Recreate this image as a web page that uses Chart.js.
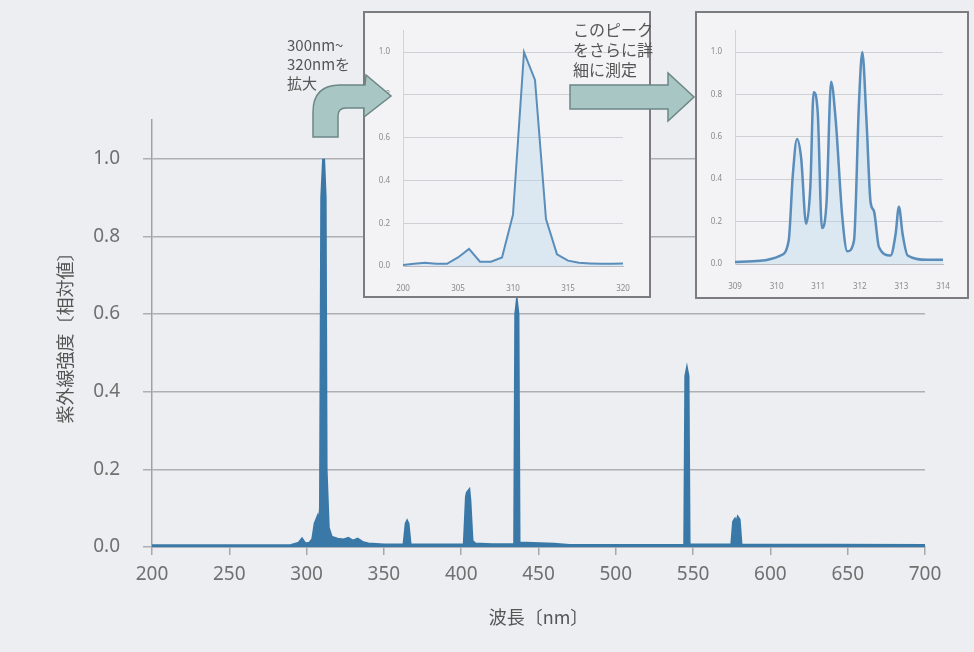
<!DOCTYPE html>
<html>
<head>
<meta charset="utf-8">
<script src="https://cdn.jsdelivr.net/npm/chart.js@4.4.1/dist/chart.umd.min.js"></script>
<style>
  body { margin: 0; background: #eceef1; }
  #wrap { position: relative; width: 974px; height: 652px; overflow: hidden; }
  #wrap canvas { position: absolute; }
  .inset { position: absolute; border: 2px solid #7c7c80; background: #f3f3f5; box-sizing: border-box; }
  .inset canvas { position: absolute; left: 0; top: 0; }
</style>
</head>
<body>
<div id="wrap">
  <canvas id="grafico" width="974" height="652" style="left:0;top:0"></canvas>
  <div class="inset" style="left:363px;top:11px;width:288px;height:287px">
    <canvas id="zoom1" width="284" height="283"></canvas>
  </div>
  <div class="inset" style="left:695px;top:11px;width:274px;height:288px">
    <canvas id="zoom2" width="270" height="284"></canvas>
  </div>
  <canvas id="flechas" width="974" height="652" style="left:0;top:0;pointer-events:none"></canvas>
</div>
<script>
// espectro completo 200-700nm (valores relativos)
const mainNm  = [200, 290, 295, 297, 299, 302, 304, 305.5, 307, 308, 309, 309.8, 311, 312, 312.6, 314, 316, 320, 324, 327, 330, 333, 336, 340, 350,
                 363, 364.4, 365, 365.6, 367, 402, 403.4, 404, 405, 405.6, 407, 409, 420, 434.6, 435.3, 436, 436.7, 437.4, 460, 470,
                 544.6, 545.3, 546, 546.7, 547.4, 575, 576.2, 577, 578, 579, 579.8, 581, 700];
const mainVal = [0.003, 0.004, 0.01, 0.02, 0.008, 0.01, 0.02, 0.06, 0.075, 0.05, 0.1, 0.9, 1.0, 0.9, 0.2, 0.05, 0.025, 0.02, 0.018, 0.022, 0.015, 0.02, 0.012, 0.008, 0.005,
                 0.005, 0.06, 0.065, 0.06, 0.005, 0.006, 0.13, 0.14, 0.145, 0.12, 0.015, 0.008, 0.006, 0.006, 0.6, 0.625, 0.6, 0.01, 0.007, 0.004,
                 0.004, 0.44, 0.455, 0.44, 0.005, 0.005, 0.065, 0.07, 0.06, 0.075, 0.07, 0.005, 0.004];
const mainXTicks = [200, 250, 300, 350, 400, 450, 500, 550, 600, 650, 700];
const yTicks = [0, 0.2, 0.4, 0.6, 0.8, 1.0];

// ampliacion 300-320nm
const zoom1Nm  = [300, 301, 302, 303, 304, 305, 306, 307, 308, 309, 310, 311, 312, 313, 314, 315, 316, 317, 318, 319, 320];
const zoom1Val = [0.005, 0.01, 0.015, 0.01, 0.01, 0.04, 0.08, 0.02, 0.02, 0.04, 0.24, 1.0, 0.87, 0.22, 0.055, 0.025, 0.015, 0.012, 0.01, 0.01, 0.012];
const zoom1XTicks = [300, 305, 310, 315, 320];
const zoom1XLabels = ['200', '305', '310', '315', '320'];

// medicion detallada 309-314nm
const zoom2Nm  = [309.0, 309.6, 310.09, 310.29, 310.39, 310.49, 310.59, 310.71, 310.81, 310.89, 310.99, 311.09, 311.2, 311.31, 311.42, 311.58,
                  311.7, 311.86, 311.98, 312.06, 312.16, 312.26, 312.34, 312.46, 312.74, 312.86, 312.94, 313.03, 313.15, 313.63, 314.0];
const zoom2Val = [0.01, 0.015, 0.04, 0.11, 0.42, 0.59, 0.5, 0.19, 0.36, 0.81, 0.71, 0.17, 0.29, 0.86, 0.68, 0.22,
                  0.06, 0.11, 0.76, 1.0, 0.68, 0.29, 0.25, 0.08, 0.04, 0.14, 0.27, 0.14, 0.04, 0.02, 0.02];
const zoom2XTicks = [309, 310, 311, 312, 313, 314];

Chart.defaults.font.family = "'Noto Sans', 'Noto Sans CJK JP', sans-serif";
Chart.defaults.animation = false;

const puntos = (xs, ys) => xs.map((x, i) => ({ x: x, y: ys[i] }));

new Chart(document.getElementById('grafico').getContext('2d'), {
    type: 'line',
    data: {
        datasets: [{
            data: puntos(mainNm, mainVal),
            borderColor: '#3a78a8',
            backgroundColor: '#3a78a8',
            borderWidth: 3,
            fill: 'origin',
            pointRadius: 0,
            tension: 0
        }]
    },
    options: {
        responsive: false,
        layout: { padding: { top: 120, right: 49, left: 0, bottom: 0 } },
        plugins: { legend: { display: false }, tooltip: { enabled: false } },
        scales: {
            x: {
                type: 'linear', min: 200, max: 700,
                afterBuildTicks: s => { s.ticks = mainXTicks.map(v => ({ value: v })); },
                afterFit: s => { s.height = 105; },
                grid: { drawOnChartArea: false, tickLength: 8, color: '#a5a8ae', lineWidth: 1.5 },
                border: { color: '#8d98a4', width: 1.5 },
                ticks: { font: { size: 19 }, color: '#707070', padding: 8, maxRotation: 0 },
                title: { display: true, text: '波長〔nm〕', color: '#555', font: { size: 18, family: "'Noto Sans CJK JP'" }, padding: { top: 0, bottom: 24 } }
            },
            y: {
                min: 0, max: 1.1,
                afterBuildTicks: s => { s.ticks = yTicks.map(v => ({ value: v })); },
                afterFit: s => { s.width = 152; },
                grid: { color: '#adafb4', lineWidth: 1.5, tickLength: 9 },
                border: { color: '#9ea2a8', width: 1.5 },
                ticks: { font: { size: 19 }, color: '#707070', padding: 23, callback: v => v.toFixed(1) },
                title: { display: true, text: '紫外線強度〔相対値〕', color: '#555', font: { size: 18, family: "'Noto Sans CJK JP'" }, padding: { top: 54, bottom: 0 } }
            }
        }
    }
});

function opcionesZoom(xMin, xMax, xTicks, xLabels, pad) {
    return {
        responsive: false,
        layout: { padding: pad },
        plugins: { legend: { display: false }, tooltip: { enabled: false } },
        scales: {
            x: {
                type: 'linear', min: xMin, max: xMax,
                afterBuildTicks: s => { s.ticks = xTicks.map(v => ({ value: v })); },
                afterFit: s => { s.height = pad.xh; },
                grid: { display: false },
                border: { color: '#b9bbc0', width: 1 },
                ticks: {
                    font: { size: 8 }, color: '#8a8a8a', padding: 10, maxRotation: 0,
                    callback: (v, i) => xLabels ? xLabels[i] : String(v)
                }
            },
            y: {
                min: 0, max: 1.1,
                afterBuildTicks: s => { s.ticks = yTicks.map(v => ({ value: v })); },
                afterFit: s => { s.width = pad.yw; },
                grid: { color: '#cfd0d4', lineWidth: 1, drawTicks: false },
                border: { color: '#d2d3d7', width: 1 },
                ticks: { font: { size: 8 }, color: '#8a8a8a', padding: 13, callback: v => v.toFixed(1) }
            }
        }
    };
}

new Chart(document.getElementById('zoom1').getContext('2d'), {
    type: 'line',
    data: {
        datasets: [{
            data: puntos(zoom1Nm, zoom1Val),
            borderColor: '#5a8dba',
            backgroundColor: 'rgba(175,210,235,0.35)',
            borderWidth: 2,
            fill: 'origin',
            pointRadius: 0,
            tension: 0
        }]
    },
    options: opcionesZoom(300, 320, zoom1XTicks, zoom1XLabels, { top: 14, right: 26, left: 0, bottom: 0, xh: 30, yw: 38 })
});

new Chart(document.getElementById('zoom2').getContext('2d'), {
    type: 'line',
    data: {
        datasets: [{
            data: puntos(zoom2Nm, zoom2Val),
            borderColor: '#5a8dba',
            backgroundColor: 'rgba(175,210,235,0.35)',
            borderWidth: 2.5,
            fill: 'origin',
            pointRadius: 0,
            cubicInterpolationMode: 'monotone'
        }]
    },
    options: opcionesZoom(309, 314, zoom2XTicks, null, { top: 14, right: 24, left: 0, bottom: 0, xh: 33, yw: 38 })
});

// flechas y textos de anotacion encima de todo
const ctx = document.getElementById('flechas').getContext('2d');
ctx.fillStyle = '#a7c6c4';
ctx.strokeStyle = '#6d8787';
ctx.lineWidth = 1.5;

ctx.beginPath();
ctx.moveTo(313, 137);
ctx.lineTo(313, 112);
ctx.quadraticCurveTo(313, 85, 340, 85);
ctx.lineTo(365, 85);
ctx.lineTo(366, 75);
ctx.lineTo(391, 96);
ctx.lineTo(364, 117);
ctx.lineTo(364, 108);
ctx.lineTo(346, 108);
ctx.quadraticCurveTo(338, 108, 338, 116);
ctx.lineTo(338, 137);
ctx.closePath();
ctx.fill();
ctx.stroke();

ctx.beginPath();
ctx.moveTo(570, 85);
ctx.lineTo(668, 85);
ctx.lineTo(668, 73);
ctx.lineTo(694, 97);
ctx.lineTo(668, 121);
ctx.lineTo(668, 109);
ctx.lineTo(570, 109);
ctx.closePath();
ctx.fill();
ctx.stroke();

ctx.fillStyle = '#555';
ctx.font = "15px 'Noto Sans CJK JP'";
ctx.textBaseline = 'middle';
['300nm~', '320nmを', '拡大'].forEach((t, i) => ctx.fillText(t, 287, 45 + i * 19));
ctx.font = "16px 'Noto Sans CJK JP'";
['このピーク', 'をさらに詳', '細に測定'].forEach((t, i) => ctx.fillText(t, 573, 30 + i * 20));
</script>
</body>
</html>
